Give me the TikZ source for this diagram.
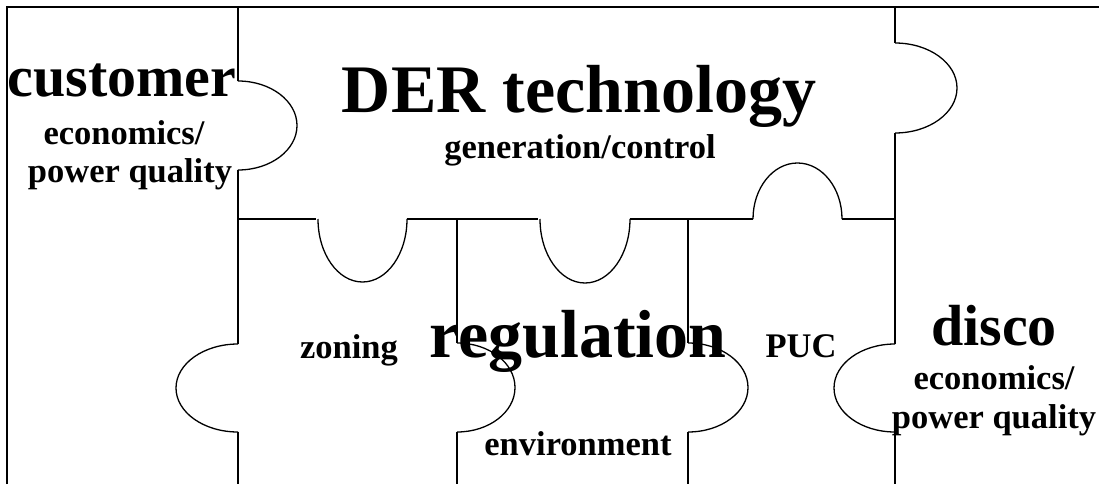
\documentclass[tikz,border=0pt]{standalone}
\usepackage{fontspec}
\setmainfont{Liberation Serif}
\begin{document}
\begin{tikzpicture}[x=1pt,y=-1pt,line width=1.3pt,
  head/.style={font=\fontsize{58}{60}\selectfont\bfseries,anchor=base,inner sep=0pt},
  title/.style={font=\fontsize{68}{70}\selectfont\bfseries,anchor=base,inner sep=0pt},
  sub/.style={font=\fontsize{34.5}{36}\selectfont\bfseries,anchor=base,inner sep=0pt}]
\useasboundingbox (0,0) rectangle (1099,484);
% frame
\draw (7,484) -- (7,7) -- (1099,7);
% left cut
\draw (238,7) -- (238,81);
\draw (238,81) arc[start angle=-90,end angle=90,x radius=59,y radius=44.5];
\draw (238,170) -- (238,344);
\draw (238,344) arc[start angle=-90,end angle=-270,x radius=62,y radius=44];
\draw (238,432) -- (238,484);
% middle cut
\draw (238,219) -- (316,219);
\draw (318,219) arc[start angle=180,end angle=0,x radius=44.5,y radius=63];
\draw (407,219) -- (538,219);
\draw (540,219) arc[start angle=180,end angle=0,x radius=45,y radius=64];
\draw (630,219) -- (753,219);
\draw (753,219) arc[start angle=180,end angle=360,x radius=44.5,y radius=56];
\draw (842,219) -- (895,219);
% right cut
\draw (895,7) -- (895,43);
\draw (895,43) arc[start angle=-90,end angle=90,x radius=62,y radius=45];
\draw (895,133) -- (895,344);
\draw (895,344) arc[start angle=-90,end angle=-270,x radius=61,y radius=44];
\draw (895,432) -- (895,484);
% lower cuts
\foreach \x/\r in {457/58,688/60} {
  \draw (\x,219) -- (\x,343);
  \draw (\x,343) arc[start angle=-90,end angle=90,x radius=\r,y radius=44.5];
  \draw (\x,432) -- (\x,484);
}

\node[head] (customer) at (122,97) {customer};
\node[sub] (custecon) at (124,144) {economics/};
\node[sub] (custpq) at (130,182) {power quality};
\node[title] (der) at (579,113) {DER technology};
\node[sub] (gen) at (580,158) {generation/control};
\node[title] (reg) at (578,357) {regulation};
\node[sub] (zoning) at (349,358) {zoning};
\node[sub] (puc) at (801,357) {PUC};
\node[sub] (env) at (578,455) {environment};
\node[head] (disco) at (994,345) {disco};
\node[sub] (discoecon) at (994,389) {economics/};
\node[sub] (discopq) at (994,428) {power quality};
\end{tikzpicture}
\end{document}
